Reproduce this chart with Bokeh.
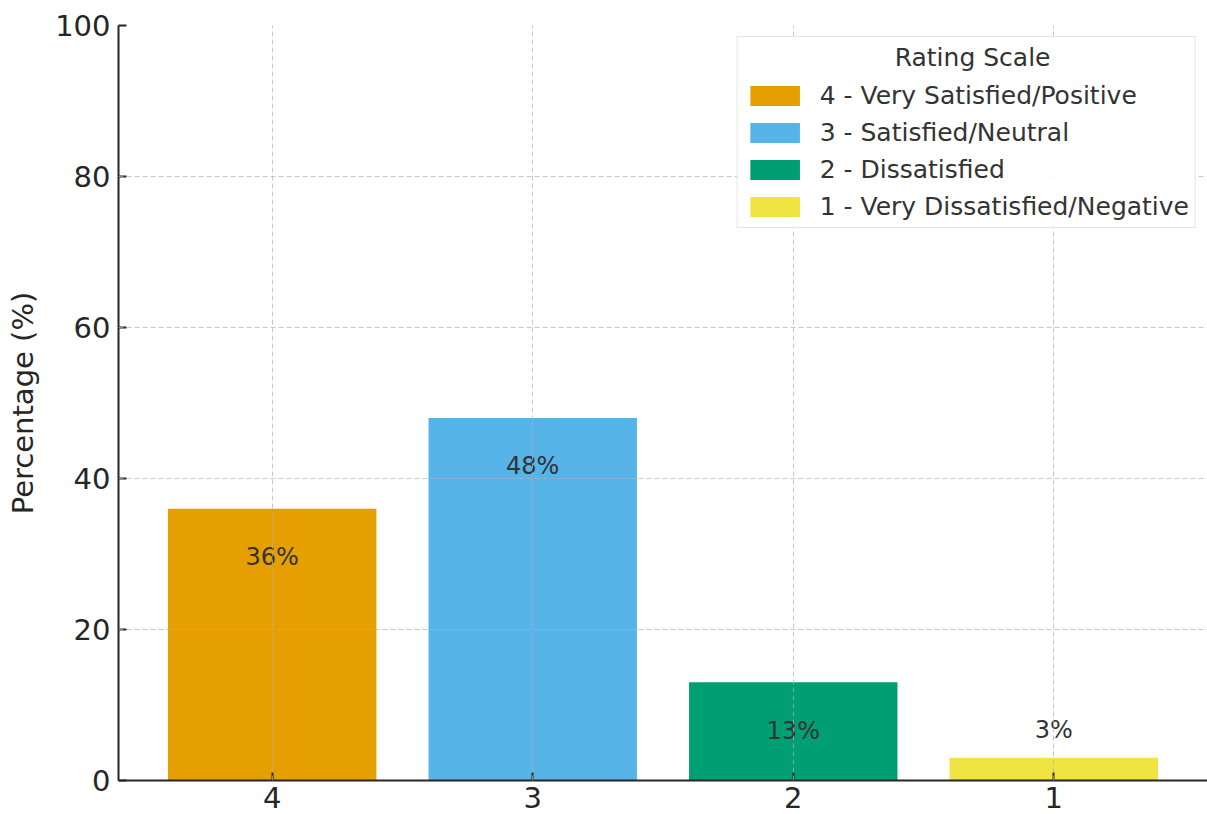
from bokeh.plotting import figure
from bokeh.models import ColumnDataSource, Range1d, FixedTicker, Legend, LegendItem
from bokeh.embed import file_html
from bokeh.resources import INLINE

# Survey results by rating (highest first)
ratings = ["4", "3", "2", "1"]
descriptions = [
    "4 - Very Satisfied/Positive",
    "3 - Satisfied/Neutral",
    "2 - Dissatisfied",
    "1 - Very Dissatisfied/Negative",
]
percentages = [36, 48, 13, 3]
colors = ["#E69F00", "#56B4E9", "#009E73", "#F0E442"]
y_ticks = [0, 20, 40, 60, 80, 100]
legend_title = "Rating Scale"

FONT = "DejaVu Sans"
TEXT = "#333333"

xs = list(range(len(ratings)))
# value labels sit inside tall bars, just above short ones
label_y = [v - 6.4 if v > 6 else v + 3.75 for v in percentages]
label_txt = [f"{v}%" for v in percentages]

src = ColumnDataSource(dict(x=xs, top=percentages, color=colors,
                            ly=label_y, txt=label_txt, desc=descriptions))

p = figure(width=1207, height=814, output_backend="svg", toolbar_location=None,
           x_range=Range1d(-0.59, len(ratings) - 1 + 0.59),
           y_range=Range1d(0, 100),
           min_border_left=118, min_border_right=0,
           min_border_top=25, min_border_bottom=34)
p.outline_line_color = None
p.background_fill_color = "white"
p.border_fill_color = "white"

bars = p.vbar(x="x", top="top", width=0.8, bottom=0, color="color",
              line_color=None, source=src)

p.text(x="x", y="ly", text="txt", source=src, text_align="center",
       text_baseline="middle", text_font_size="24px", text_color=TEXT,
       text_font={"value": FONT})

# axes
for ax in (p.xaxis[0], p.yaxis[0]):
    ax.axis_line_color = "#262626"
    ax.axis_line_width = 2
    ax.major_tick_line_color = "#262626"
    ax.major_tick_line_width = 2
    ax.major_tick_in = 8
    ax.major_tick_out = 0
    ax.minor_tick_line_color = None
    ax.major_label_text_font = FONT
    ax.major_label_text_font_size = "29px"
    ax.major_label_text_color = "#262626"
    ax.major_label_standoff = 8

p.xaxis.ticker = FixedTicker(ticks=xs)
p.xaxis.major_label_overrides = {i: r for i, r in zip(xs, ratings)}
p.xaxis.major_label_standoff = 6
p.yaxis.ticker = FixedTicker(ticks=y_ticks)
p.yaxis.axis_label = "Percentage (%)"
p.yaxis.axis_label_text_font = FONT
p.yaxis.axis_label_text_font_size = "29px"
p.yaxis.axis_label_text_font_style = "normal"
p.yaxis.axis_label_text_color = "#262626"
p.yaxis.axis_label_standoff = 12

# dashed grid drawn on top of the bars
for g in (p.xgrid[0], p.ygrid[0]):
    g.grid_line_color = "#b0b0b0"
    g.grid_line_alpha = 0.7
    g.grid_line_dash = "5 3"
    g.grid_line_width = 1
    g.level = "annotation"

# legend; the title is pushed toward the centre of the box with
# non-breaking spaces since the legend title is always left-aligned
items = [LegendItem(label=d, renderers=[bars], index=i)
         for i, d in enumerate(descriptions)]
legend = Legend(items=items, location="top_right",
                title="\u00a0" * 19 + legend_title,
                title_text_font=FONT, title_text_font_size="25px",
                title_text_font_style="normal", title_text_color=TEXT,
                title_standoff=9,
                label_text_font=FONT, label_text_font_size="25px",
                label_text_color=TEXT, label_height=28,
                glyph_width=62, glyph_height=25, label_standoff=14,
                spacing=8, padding=6, margin=11,
                border_line_color="#cccccc", border_line_width=1.5,
                background_fill_color="white", background_fill_alpha=0.9)
p.add_layout(legend)

open("out.html", "w").write(file_html(p, INLINE))
